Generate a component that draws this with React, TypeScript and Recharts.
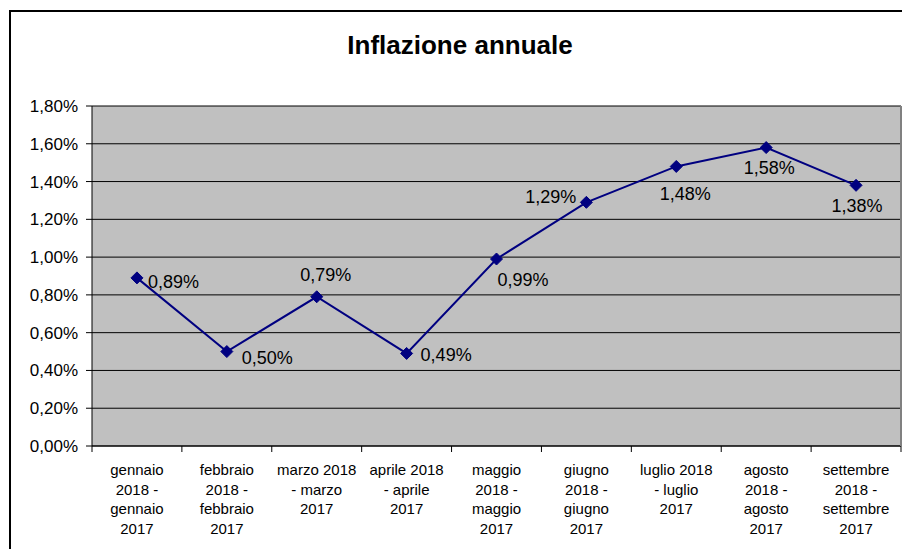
import React from 'react';
import { LineChart, Line, XAxis, YAxis, CartesianGrid, LabelList } from 'recharts';

const categories = [
  'gennaio\n2018 -\ngennaio\n2017',
  'febbraio\n2018 -\nfebbraio\n2017',
  'marzo 2018\n- marzo\n2017',
  'aprile 2018\n- aprile\n2017',
  'maggio\n2018 -\nmaggio\n2017',
  'giugno\n2018 -\ngiugno\n2017',
  'luglio 2018\n- luglio\n2017',
  'agosto\n2018 -\nagosto\n2017',
  'settembre\n2018 -\nsettembre\n2017',
];
const inflation = [0.89, 0.5, 0.79, 0.49, 0.99, 1.29, 1.48, 1.58, 1.38];
const yTicks = [0, 0.2, 0.4, 0.6, 0.8, 1.0, 1.2, 1.4, 1.6, 1.8];
const title = 'Inflazione annuale';

const xTicks: number[] = [];
for (let i = 0; i <= categories.length * 2; i++) xTicks.push(i / 2);

const data = inflation.map((v, i) => ({ pos: i + 0.5, value: v, category: categories[i] }));

const FONT = '"Liberation Sans", Arial, Helvetica, sans-serif';
const fmt = (v: number) => v.toFixed(2).replace('.', ',') + '%';

// per-point label placement: [dx, dy, anchor]
const labelPlacement: [number, number, string][] = [
  [11, 4, 'start'],
  [15, 6, 'start'],
  [9, -22, 'middle'],
  [14, 2, 'start'],
  [1, 21, 'start'],
  [-10, -5, 'end'],
  [9, 28, 'middle'],
  [3, 20, 'middle'],
  [1, 21, 'middle'],
];

const XTick = (props: any) => {
  const { x, y, payload } = props;
  const v = payload.value as number;
  if (Number.isInteger(v)) {
    return <line x1={x} y1={y} x2={x} y2={y + 6} stroke="#000" strokeWidth={1} />;
  }
  const lines = categories[Math.floor(v)].split('\n');
  return (
    <text x={x} y={y + 29} textAnchor="middle" fontSize={15} fontFamily={FONT} fill="#000">
      {lines.map((l, k) => (
        <tspan key={k} x={x} dy={k === 0 ? 0 : 19.5}>
          {l}
        </tspan>
      ))}
    </text>
  );
};

const Diamond = (props: any) => {
  const { cx, cy } = props;
  if (cx == null || cy == null) return null;
  const r = 6;
  return (
    <polygon
      points={`${cx},${cy - r} ${cx + r},${cy} ${cx},${cy + r} ${cx - r},${cy}`}
      fill="#000080"
      stroke="#000080"
    />
  );
};

const PointLabel = (props: any) => {
  const { x, y, value, index } = props;
  const [dx, dy, anchor] = labelPlacement[index] || [10, 0, 'start'];
  return (
    <text
      x={x + dx}
      y={y + dy}
      textAnchor={anchor as any}
      dominantBaseline="central"
      fontSize={18}
      fontFamily={FONT}
      fill="#000"
    >
      {fmt(value)}
    </text>
  );
};

export default function App() {
  return (
    <div style={{ position: 'absolute', left: 0, top: 0, width: 902, height: 549, overflow: 'hidden', background: '#fff' }}>
      <div
        style={{
          position: 'absolute',
          left: 9,
          top: 10,
          width: 920,
          height: 600,
          borderLeft: '2px solid #000',
          borderTop: '2px solid #000',
        }}
      />
      <div
        style={{
          position: 'absolute',
          left: 260,
          top: 30,
          width: 400,
          textAlign: 'center',
          fontFamily: FONT,
          fontWeight: 'bold',
          fontSize: 26,
          lineHeight: '30px',
          color: '#000',
        }}
      >
        {title}
      </div>
      <div style={{ position: 'absolute', left: 0, top: 0 }}>
        <LineChart width={902} height={549} data={data} margin={{ top: 106, right: 0, bottom: 0, left: 0 }}>
          <CartesianGrid vertical={false} stroke="#000" fill="#C0C0C0" fillOpacity={1} />
          <XAxis
            xAxisId="top"
            orientation="top"
            type="number"
            domain={[0, 9]}
            height={0}
            tick={false}
            tickLine={false}
            axisLine={{ stroke: '#808080', strokeWidth: 2 }}
          />
          <XAxis
            dataKey="pos"
            type="number"
            domain={[0, 9]}
            ticks={xTicks}
            interval={0}
            height={103}
            tickLine={false}
            tickSize={0}
            tickMargin={0}
            tick={<XTick />}
            axisLine={{ stroke: '#000' }}
          />
          <YAxis
            domain={[0, 1.8]}
            ticks={yTicks}
            interval={0}
            width={92}
            tickSize={6}
            tickMargin={8}
            tickFormatter={fmt}
            tick={{ fontSize: 17, fontFamily: FONT, fill: '#000' }}
            tickLine={{ stroke: '#000' }}
            axisLine={{ stroke: '#000' }}
          />
          <YAxis
            yAxisId="right"
            orientation="right"
            domain={[0, 1.8]}
            width={1}
            tick={false}
            tickLine={false}
            axisLine={{ stroke: '#808080', strokeWidth: 2 }}
          />
          <Line
            dataKey="value"
            stroke="#000080"
            strokeWidth={2}
            dot={<Diamond />}
            activeDot={false}
            isAnimationActive={false}
          >
            <LabelList dataKey="value" content={<PointLabel />} />
          </Line>
        </LineChart>
      </div>
    </div>
  );
}
